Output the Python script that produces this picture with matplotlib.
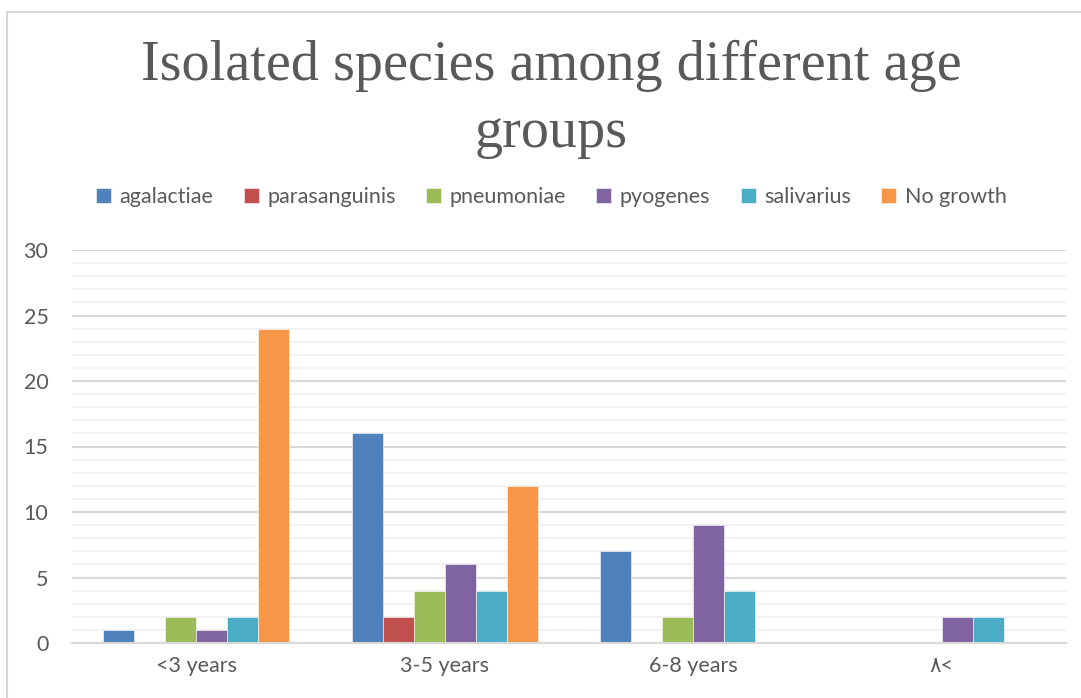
import numpy as np
import matplotlib.pyplot as plt
from matplotlib.patches import Rectangle

# age groups on the x axis
groups = ['<3 years', '3-5 years', '6-8 years', '\u0668<']

# number of isolates per species
species = ['agalactiae', 'parasanguinis', 'pneumoniae', 'pyogenes', 'salivarius', 'No growth']
agalactiae = [1, 16, 7, 0]
parasanguinis = [0, 2, 0, 0]
pneumoniae = [2, 4, 2, 0]
pyogenes = [1, 6, 9, 2]
salivarius = [2, 4, 4, 2]
no_growth = [24, 12, 0, 0]
colors = ['#4F81BD', '#C0504D', '#9BBB59', '#8064A2', '#4BACC6', '#F79646']

values = [agalactiae, parasanguinis, pneumoniae, pyogenes, salivarius, no_growth]

fig = plt.figure(figsize=(10.81, 6.98), dpi=100)
ax = fig.add_axes([72 / 1081, 1 - 643 / 698, (1066 - 72) / 1081, (643 - 250) / 698])

# outer chart border, like the spreadsheet chart area
fig.patches.append(Rectangle((7 / 1081, -0.1), 1.2, 1 - 12 / 698 + 0.1,
                             transform=fig.transFigure, fill=False,
                             edgecolor='#D9D9D9', linewidth=1.5))

x = np.arange(len(groups))
w = 0.75 / len(species)
for i, (name, vals) in enumerate(zip(species, values)):
    offs = (i - (len(species) - 1) / 2) * w
    ax.bar(x + offs, vals, width=w, color=colors[i], label=name,
           edgecolor='white', linewidth=0.4, zorder=3)

ax.set_xlim(-0.5, len(groups) - 0.5)
ax.set_ylim(0, 30)
ax.set_yticks(range(0, 31, 5))
ax.set_yticks(range(0, 31, 1), minor=True)
ax.grid(axis='y', which='major', color='#D9D9D9', linewidth=1.5, zorder=0)
ax.grid(axis='y', which='minor', color='#F2F2F2', linewidth=1.5, zorder=0)
ax.set_xticks(x)
ax.set_xticklabels(groups)

for s in ['top', 'right', 'left']:
    ax.spines[s].set_visible(False)
ax.spines['bottom'].set_color('#D9D9D9')
ax.spines['bottom'].set_linewidth(1.5)
ax.spines['bottom'].set_zorder(4)

ax.tick_params(axis='both', which='both', length=0, labelsize=15.5, colors='#595959')
ax.tick_params(axis='y', pad=17)
ax.tick_params(axis='x', pad=9)
for lab in ax.get_xticklabels() + ax.get_yticklabels():
    lab.set_family(['Lato', 'DejaVu Sans'])

fig.text(0.51, 1 - 66 / 698, 'Isolated species among different age', ha='center', va='center',
         fontsize=40.5, color='#595959', family='Liberation Serif')
fig.text(0.51, 1 - 133 / 698, 'groups', ha='center', va='center',
         fontsize=40.5, color='#595959', family='Liberation Serif')

leg = fig.legend(loc='center', bbox_to_anchor=(0.51, 1 - 197 / 698), ncol=6,
                 frameon=False, handlelength=0.7, handleheight=0.7,
                 handletextpad=0.4, columnspacing=1.4, prop={'family': 'Lato', 'size': 15.5})
for t in leg.get_texts():
    t.set_color('#595959')

fig.savefig('out.png', dpi=100)
